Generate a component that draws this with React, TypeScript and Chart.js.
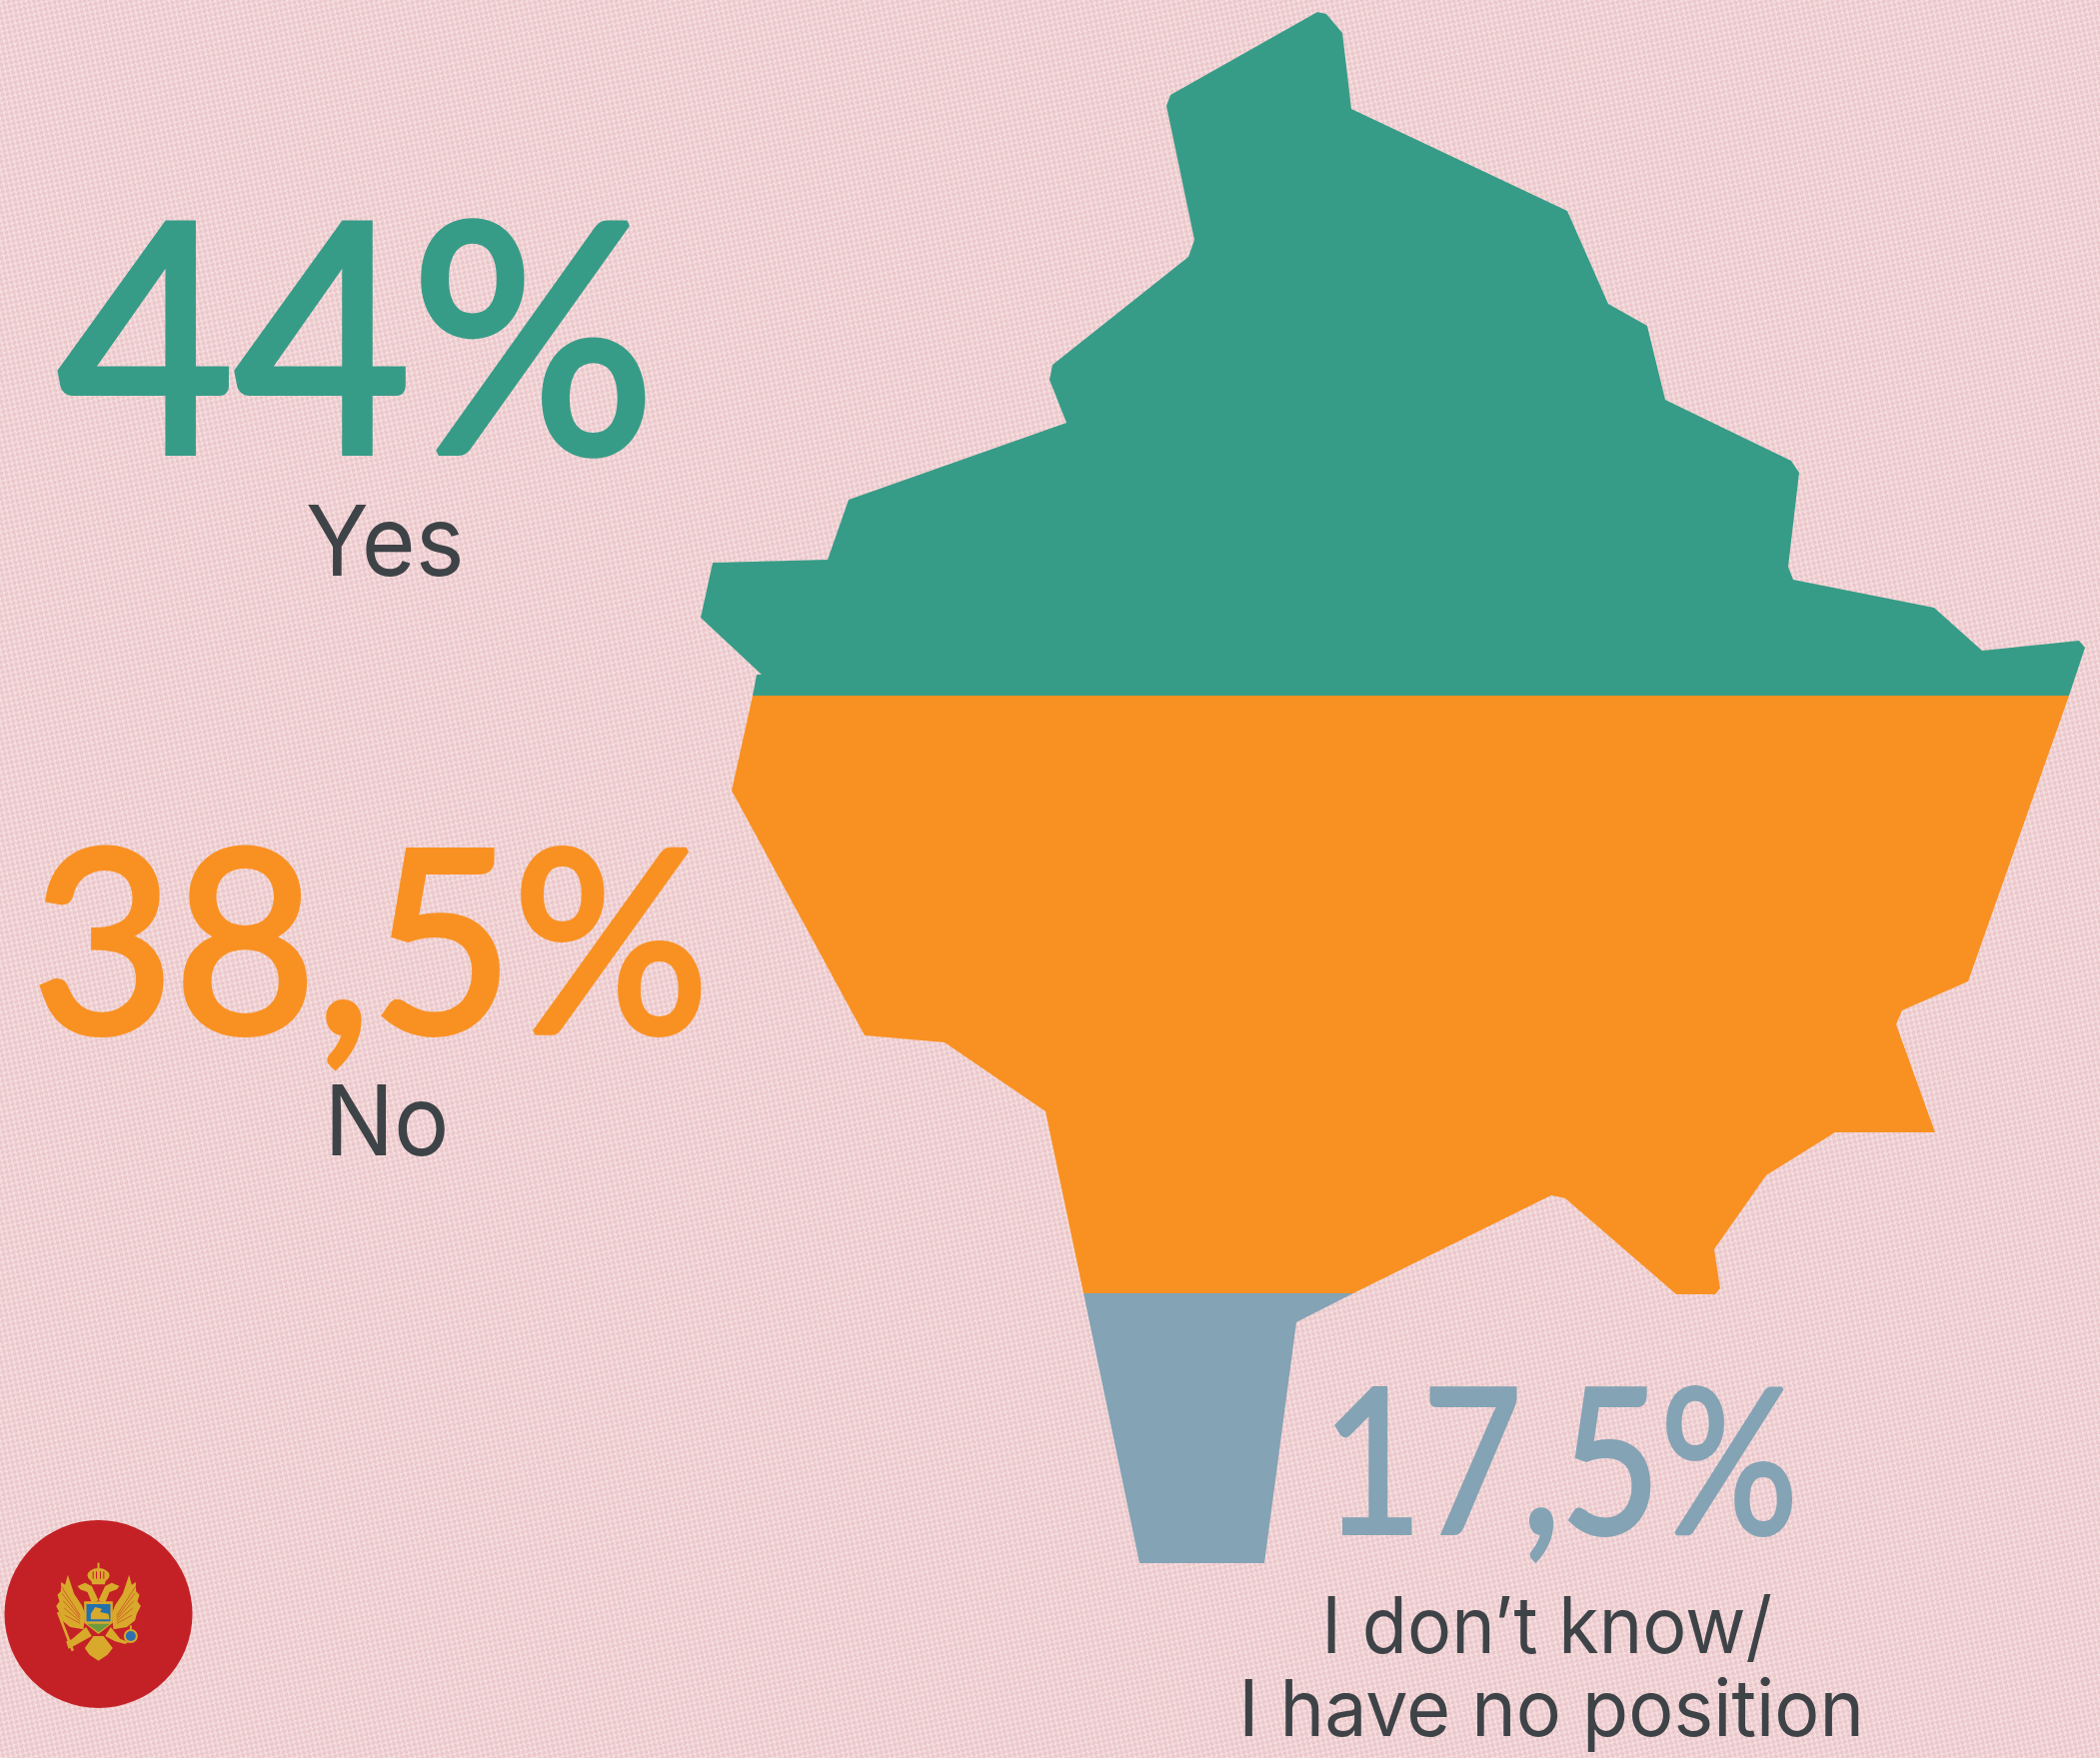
import React, { useEffect, useRef } from "react";
import { Chart, registerables } from "chart.js";

Chart.register(...registerables);

const yesX = [1318, 1327, 1343, 1352, 1568, 1609, 1648, 1666, 1792, 1800, 1789, 1794, 1935, 1983, 2080, 2086, 2070, 753, 757, 762, 701, 713, 828, 849, 1067, 1050, 1053, 1189, 1195, 1167, 1171];
const yesY = [12, 14, 33, 109, 211, 304, 326, 400, 461, 473, 567, 580, 608, 651, 641, 648, 696, 696, 675, 675, 618, 563, 560, 500, 423, 380, 365, 257, 240, 106, 95];

const noX = [753, 2070, 1969, 1903, 1897, 1936, 1836, 1767, 1715, 1721, 1716, 1677, 1566, 1552, 1354, 1084, 1046, 945, 865, 732];
const noY = [696, 696, 982, 1011, 1025, 1133, 1133, 1176, 1250, 1289, 1295, 1295, 1199, 1196, 1294, 1294, 1112, 1043, 1036, 791];

const unsureX = [1084, 1354, 1297, 1265, 1140];
const unsureY = [1294, 1294, 1323, 1564, 1564];

const flagX = [98.5];
const flagY = [1615];

const labelTexts = ["44%", "Yes", "38,5%", "No", "17,5%", "I don’t know/", "I have no position"];
const labelLeft = [54, 308, 39, 332, 1335, 1328, 1245];
const labelRight = [648, 460, 702, 445, 1794, 1772, 1860];
const labelBase = [456, 576, 1036, 1156, 1536, 1654, 1737];
const labelSize = [319, 98, 254, 98, 201, 78, 78];
const labelFont = ["Lato", "Inter", "Lato", "Inter", "Lato", "Inter", "Inter"];
const labelStroke = [7, 0, 6, 0, 4, 0, 0];
const labelColor = ["#379c87", "#3e4347", "#f99122", "#3e4347", "#84a3b4", "#3e4347", "#3e4347"];

const GREEN = "#379c87";
const ORANGE = "#f99122";
const BLUE = "#84a3b4";

const zip = (xs: number[], ys: number[]) => xs.map((x, i) => ({ x, y: ys[i] }));

const poly = (ctx: CanvasRenderingContext2D, pts: number[], color: string, mirror = false) => {
  ctx.fillStyle = color;
  ctx.beginPath();
  for (let i = 0; i < pts.length; i += 2) {
    const x = mirror ? 590 - pts[i] : pts[i];
    if (i === 0) ctx.moveTo(x, pts[i + 1]);
    else ctx.lineTo(x, pts[i + 1]);
  }
  ctx.closePath();
  ctx.fill();
};

const emblemPlugin = {
  id: "emblem",
  afterDatasetsDraw(chart: any) {
    const ctx: CanvasRenderingContext2D = chart.ctx;
    const cx = chart.scales.x.getPixelForValue(flagX[0]);
    const cy = chart.scales.y.getPixelForValue(flagY[0]);
    ctx.save();
    ctx.translate(cx, cy);
    ctx.scale(1 / 3, 1 / 3);
    ctx.translate(-295, -346);
    const gold = "#d9a92c";
    const wing = [255, 345, 245, 320, 222, 285, 203, 228, 195, 258, 183, 250, 182, 278, 172, 288, 178, 308, 168, 322, 180, 345, 185, 365, 210, 385, 250, 392];
    const neck = [232, 262, 255, 252, 275, 262, 295, 305, 275, 312, 262, 280, 240, 272];
    for (const m of [false, true]) {
      poly(ctx, wing, gold, m);
      poly(ctx, neck, gold, m);
    }
    ctx.strokeStyle = "#c42126";
    ctx.lineWidth = 1.5;
    for (let k = 0; k < 5; k++) {
      for (const s of [-1, 1]) {
        ctx.beginPath();
        ctx.moveTo(295 + s * 55, 350 + k * 6);
        ctx.lineTo(295 + s * (112 - k * 3), 262 + k * 22);
        ctx.stroke();
      }
    }
    // crown
    ctx.fillStyle = gold;
    ctx.beginPath();
    ctx.ellipse(295, 230, 33, 22, 0, 0, Math.PI * 2);
    ctx.fill();
    poly(ctx, [272, 240, 318, 240, 314, 257, 276, 257], gold);
    ctx.fillRect(292, 192, 6, 20);
    ctx.strokeStyle = "#c42126";
    ctx.lineWidth = 3;
    for (const dx of [-16, -6, 6, 16]) {
      ctx.beginPath();
      ctx.moveTo(295 + dx, 218);
      ctx.lineTo(295 + dx, 240);
      ctx.stroke();
    }
    // legs and tail
    poly(ctx, [258, 385, 215, 422, 198, 428, 205, 450, 232, 436, 275, 412], gold);
    poly(ctx, [332, 385, 360, 420, 385, 430, 375, 436, 345, 428, 315, 412], gold);
    poly(ctx, [254, 448, 280, 412, 310, 412, 338, 448, 322, 468, 295, 486, 268, 468], gold);
    // sceptre
    ctx.strokeStyle = gold;
    ctx.lineWidth = 8;
    ctx.beginPath();
    ctx.moveTo(174, 340);
    ctx.lineTo(218, 456);
    ctx.stroke();
    // orb
    ctx.fillStyle = gold;
    ctx.beginPath();
    ctx.arc(392, 412, 21, 0, Math.PI * 2);
    ctx.fill();
    ctx.fillRect(389, 380, 6, 18);
    ctx.fillStyle = "#2f6fae";
    ctx.beginPath();
    ctx.arc(392, 412, 15, 0, Math.PI * 2);
    ctx.fill();
    // shield
    poly(ctx, [252, 308, 338, 308, 338, 372, 295, 406, 252, 372], gold);
    poly(ctx, [259, 316, 331, 316, 331, 368, 259, 368], "#2470ad");
    poly(ctx, [260, 375, 330, 375, 295, 401], "#6f9a3c");
    poly(ctx, [272, 345, 285, 325, 305, 330, 300, 340, 325, 345, 328, 362, 272, 362], gold);
    ctx.restore();
  },
};

const labelPlugin = {
  id: "labels",
  afterDraw(chart: any) {
    const ctx: CanvasRenderingContext2D = chart.ctx;
    const sx = chart.scales.x;
    const sy = chart.scales.y;
    labelTexts.forEach((text, i) => {
      ctx.save();
      ctx.font = `400 ${labelSize[i]}px ${labelFont[i]}`;
      ctx.textBaseline = "alphabetic";
      ctx.textAlign = "left";
      ctx.fillStyle = labelColor[i];
      const lw = labelStroke[i];
      const m = ctx.measureText(text);
      const ink = m.actualBoundingBoxRight + m.actualBoundingBoxLeft;
      const left = sx.getPixelForValue(labelLeft[i]) + lw / 2;
      const right = sx.getPixelForValue(labelRight[i]) - lw / 2;
      const k = (right - left) / ink;
      ctx.translate(left, sy.getPixelForValue(labelBase[i]) - lw / 2);
      ctx.scale(k, 1);
      ctx.fillText(text, m.actualBoundingBoxLeft, 0);
      if (lw > 0) {
        ctx.strokeStyle = labelColor[i];
        ctx.lineWidth = lw;
        ctx.lineJoin = "miter";
        ctx.miterLimit = 2;
        ctx.strokeText(text, m.actualBoundingBoxLeft, 0);
      }
      ctx.restore();
    });
  },
};

const shapeDataset = (label: string, xs: number[], ys: number[], color: string) => ({
  type: "line" as const,
  label,
  data: zip(xs, ys),
  fill: "shape",
  backgroundColor: color,
  borderColor: color,
  borderWidth: 0,
  pointRadius: 0,
  tension: 0,
  clip: false,
});

export default function App() {
  const ref = useRef<HTMLCanvasElement>(null);
  useEffect(() => {
    const chart = new Chart(ref.current!, {
      type: "line",
      data: {
        datasets: [
          shapeDataset("Yes", yesX, yesY, GREEN),
          shapeDataset("No", noX, noY, ORANGE),
          shapeDataset("I don’t know / I have no position", unsureX, unsureY, BLUE),
          {
            type: "line" as const,
            label: "Montenegro",
            data: zip(flagX, flagY),
            showLine: false,
            pointRadius: 94,
            pointBackgroundColor: "#c42126",
            pointBorderWidth: 0,
            clip: false,
          },
        ],
      } as any,
      options: {
        animation: false,
        responsive: false,
        maintainAspectRatio: false,
        layout: { padding: 0, autoPadding: false },
        scales: {
          x: { type: "linear", min: 0, max: 2101, display: false },
          y: { type: "linear", min: 0, max: 1759, reverse: true, display: false },
        },
        plugins: { legend: { display: false }, tooltip: { enabled: false } },
      } as any,
      plugins: [emblemPlugin, labelPlugin],
    });
    return () => chart.destroy();
  }, []);

  const bg = [
    "repeating-linear-gradient(78deg, rgba(255,255,255,0.14) 0 2px, rgba(190,130,140,0.09) 2px 5px)",
    "repeating-linear-gradient(168deg, rgba(255,255,255,0.11) 0 2px, rgba(190,130,140,0.09) 2px 5px)",
    "linear-gradient(#f4d6d8, #f4d6d8)",
  ].join(",");

  return (
    <div style={{ position: "absolute", left: 0, top: 0, width: 2101, height: 1759, overflow: "hidden", background: bg }}>
      <canvas ref={ref} width={2101} height={1759} style={{ display: "block", width: 2101, height: 1759 }} />
    </div>
  );
}
